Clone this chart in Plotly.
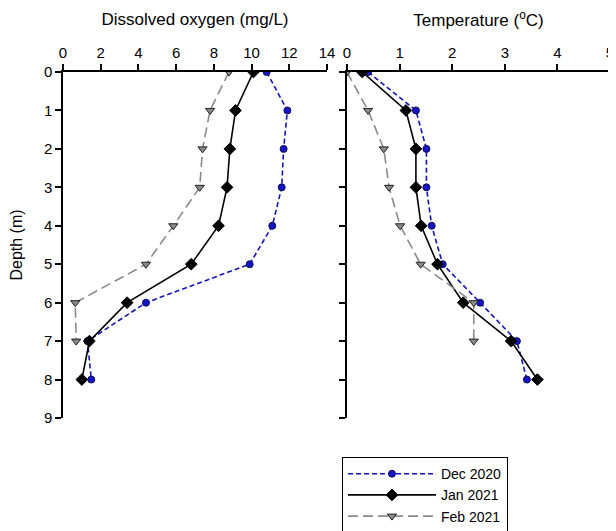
import plotly.graph_objects as go

depth = [0, 1, 2, 3, 4, 5, 6, 7, 8]
depth_feb = [0, 1, 2, 3, 4, 5, 6, 7]

do_dec = [10.8, 11.9, 11.7, 11.6, 11.1, 9.9, 4.4, 1.3, 1.5]
do_jan = [10.1, 9.15, 8.85, 8.7, 8.25, 6.8, 3.4, 1.4, 1.0]
do_feb = [8.8, 7.8, 7.4, 7.25, 5.85, 4.4, 0.65, 0.7]

t_dec = [0.40, 1.31, 1.51, 1.51, 1.61, 1.82, 2.53, 3.23, 3.42]
t_jan = [0.29, 1.12, 1.31, 1.31, 1.41, 1.72, 2.21, 3.12, 3.62]
t_feb = [0.0, 0.40, 0.70, 0.80, 1.01, 1.40, 2.41, 2.41]

names = ["Dec 2020", "Jan 2021", "Feb 2021"]
FONT = "Liberation Sans, Arial, sans-serif"

styles = [
    dict(line=dict(color="#1414B4", width=1.6, dash="5px,3px"),
         marker=dict(symbol="circle", size=7, color="#1414C8", line=dict(color="#101050", width=1))),
    dict(line=dict(color="black", width=1.6),
         marker=dict(symbol="diamond", size=9, color="black", line=dict(color="black", width=1))),
    dict(line=dict(color="#8A8A8A", width=1.6, dash="10px,5px"),
         marker=dict(symbol="triangle-down", size=8, color="#8A8A8A", line=dict(color="#202020", width=1))),
]

fig = go.Figure()
do_series = [(do_dec, depth), (do_jan, depth), (do_feb, depth_feb)]
t_series = [(t_dec, depth), (t_jan, depth), (t_feb, depth_feb)]

for i, (xv, yv) in enumerate(do_series):
    fig.add_trace(go.Scatter(x=xv, y=yv, mode="lines+markers", name=names[i],
                             xaxis="x", yaxis="y", showlegend=True, **styles[i]))
for i, (xv, yv) in enumerate(t_series):
    fig.add_trace(go.Scatter(x=xv, y=yv, mode="lines+markers", name=names[i],
                             xaxis="x2", yaxis="y2", showlegend=False, **styles[i]))

axcommon = dict(showgrid=False, zeroline=False, showline=True, linecolor="black",
                linewidth=1.5, ticks="outside", ticklen=6, tickwidth=1.5, tickcolor="black",
                automargin=False,
                tickfont=dict(size=15, color="black", family=FONT))

fig.update_layout(
    width=616, height=531,
    margin=dict(l=55, r=14, t=64, b=121, autoexpand=False),
    paper_bgcolor="white", plot_bgcolor="white",
    font=dict(family=FONT, color="black"),
    xaxis=dict(domain=[0, 0.4826], range=[0, 14], dtick=2, side="top", anchor="y",
               title=dict(text="Dissolved oxygen (mg/L)", font=dict(size=17), standoff=14), **axcommon),
    yaxis=dict(domain=[0, 1], range=[9, 0], dtick=1, anchor="x",
               title=dict(text="Depth (m)", font=dict(size=16), standoff=19), **axcommon),
    xaxis2=dict(domain=[0.5192, 1], range=[0, 5], dtick=1, side="top", anchor="y2",
                title=dict(text="Temperature (<sup>o</sup>C)", font=dict(size=17), standoff=14), **axcommon),
    yaxis2=dict(domain=[0, 1], range=[9, 0], dtick=1, anchor="x2", showticklabels=False, **axcommon),
    legend=dict(x=0.51, y=-0.113, xanchor="left", yanchor="top",
                bordercolor="black", borderwidth=1, bgcolor="white",
                font=dict(size=14, family=FONT), itemwidth=88, tracegroupgap=0),
)

fig.write_html("out.html")
